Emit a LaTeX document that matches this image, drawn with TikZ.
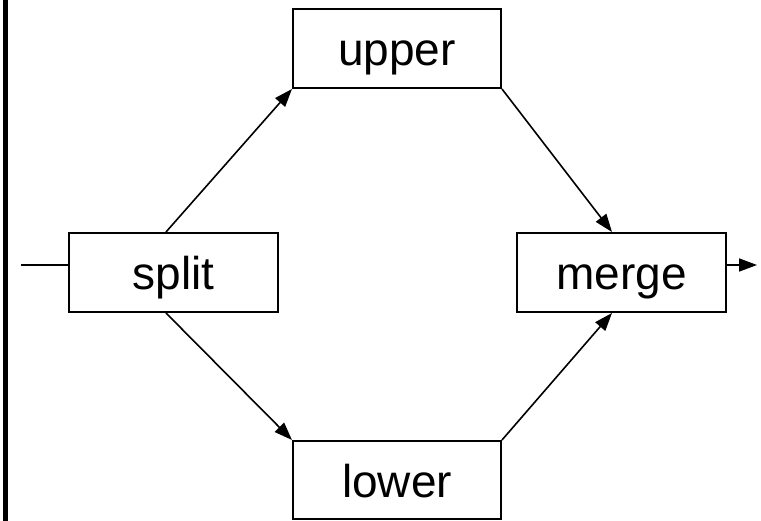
\documentclass[tikz,border=0pt]{standalone}
\usepackage{fontspec}
\setmainfont{Liberation Sans}
\usetikzlibrary{arrows.meta}
\begin{document}
\begin{tikzpicture}[x=1pt,y=-1pt,
  box/.style={draw,line width=2pt,inner sep=0pt,text height=35pt,text depth=0pt,font=\fontsize{46}{54}\selectfont},
  conn/.style={line width=1.6pt,-{Triangle[length=18pt,width=13pt]}},
  plain/.style={line width=1.6pt}]
\useasboundingbox (0,0) rectangle (761,521);
\fill[black] (3,0) rectangle (8,521);
\node[box,minimum width=209pt,minimum height=79pt] (split) at (173.5,272.5) {split};
\node[box,minimum width=208pt,minimum height=79pt] (upper) at (397,48.5) {upper};
\node[box,minimum width=208pt,minimum height=78pt] (lower) at (397,480) {lower};
\node[box,minimum width=209pt,minimum height=79pt] (merge) at (621.5,272.5) {merge};
\coordinate (in) at (21,265);
\coordinate (out) at (757,265);
\draw[plain] (in) -- ([yshift=7.5pt]split.west);
\draw[conn] ([xshift=-7.5pt]split.north) -- (upper.south west);
\draw[conn] ([xshift=-7.5pt]split.south) -- (lower.north west);
\draw[conn] (upper.south east) -- ([xshift=-9.5pt]merge.north);
\draw[conn] (lower.north east) -- ([xshift=-9.5pt]merge.south);
\draw[conn] ([yshift=7.5pt]merge.east) -- (out);
\end{tikzpicture}
\end{document}
